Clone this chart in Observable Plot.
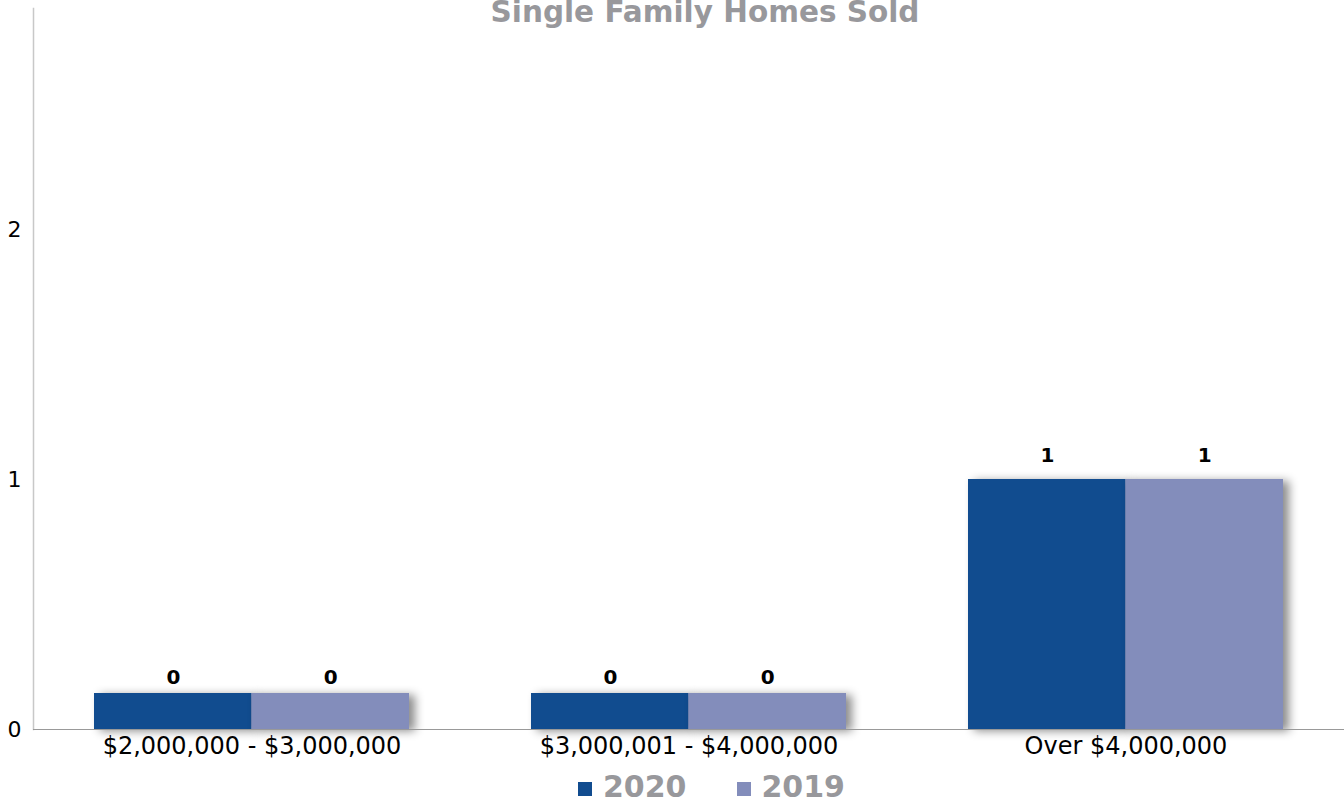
<!DOCTYPE html>
<html>
<head>
<meta charset="utf-8">
<script src="https://cdn.jsdelivr.net/npm/d3@7"></script>
<script src="https://cdn.jsdelivr.net/npm/@observablehq/plot@0.6"></script>
<style>
  html, body { margin: 0; padding: 0; background: #fff; overflow: hidden; }
  #wrap { position: relative; width: 1344px; height: 802px; font-family: "DejaVu Sans", Verdana, sans-serif; }
  #title { position: absolute; top: -5px; left: 0; width: 1410px; text-align: center; font-weight: bold; font-size: 29.5px; line-height: 34px; color: #98989c; white-space: nowrap; }
  #chart { position: absolute; top: 0; left: 0; }
  #legend { position: absolute; top: 770px; left: 578px; height: 32px; display: flex; align-items: center; font-weight: bold; font-size: 30px; color: #98989c; }
  .item { display: flex; align-items: center; margin-right: 50px; }
  .sw { width: 14px; height: 14px; margin-right: 11px; margin-top: 6px; }
  .bars rect { filter: drop-shadow(6px 2px 5px rgba(0,0,0,0.45)); }
</style>
</head>
<body>
<div id="wrap">
  <div id="chart"></div>
  <div id="title">Single Family Homes Sold</div>
  <div id="legend"></div>
</div>
<script>
const categories = ["$2,000,000 - $3,000,000", "$3,000,001 - $4,000,000", "Over $4,000,000"];
const series = ["2020", "2019"];
const values2020 = [0, 0, 1];
const values2019 = [0, 0, 1];
const yTicks = [0, 1, 2];
const colors = ["#114c8f", "#838dbb"];

const data = [];
categories.forEach((c, i) => {
  data.push({cat: c, year: "2020", value: values2020[i]});
  data.push({cat: c, year: "2019", value: values2019[i]});
});

const W = 1344, H = 770, mL = 33, mR = 0, mT = 8, mB = 41;
const padInner = 0.28, padOuter = 0.14;
const step = (W - mL - mR) / (categories.length - padInner + 2 * padOuter);
const bw = step * (1 - padInner);
const half = bw / 2;
const minBar = 0.144; // visual minimum stub for zero-valued bars
const barTop = (d) => Math.max(d.value, minBar);

const marks = [];
series.forEach((s, si) => {
  const sub = data.filter(d => d.year === s);
  marks.push(Plot.barY(sub, {
    x: "cat", y1: 0, y2: barTop, fill: colors[si],
    insetLeft: si === 0 ? 0 : half, insetRight: si === 0 ? half : 0,
    className: "bars"
  }));
  [[sub.filter(d => d.value < minBar), -16], [sub.filter(d => d.value >= minBar), -24]].forEach(([part, dy]) => {
    marks.push(Plot.text(part, {
      x: "cat", y: barTop, text: d => String(d.value),
      dx: si === 0 ? -half / 2 : half / 2, dy,
      fontWeight: "bold", fontSize: 20, fill: "#000"
    }));
  });
});

const chart = Plot.plot({
  width: W, height: H,
  marginLeft: mL, marginRight: mR, marginTop: mT, marginBottom: mB,
  style: {fontFamily: "'DejaVu Sans', Verdana, sans-serif", background: "transparent", overflow: "visible"},
  x: {domain: categories, paddingInner: padInner, paddingOuter: padOuter, label: null},
  y: {domain: [0, 721 / 250], label: null},
  marks: [
    Plot.frame({anchor: "left", stroke: "#c8c8c8", strokeWidth: 1.5}),
    ...marks,
    Plot.ruleY([0], {stroke: "#999", strokeWidth: 1.2}),
    Plot.axisY({ticks: yTicks, tickSize: 0, tickPadding: 12, fontSize: 22, fill: "#000", tickFormat: d => String(d), label: null}),
    Plot.axisX({tickSize: 0, tickPadding: 7, fontSize: 24, fill: "#000", label: null})
  ]
});
document.getElementById("chart").appendChild(chart);

const legend = document.getElementById("legend");
series.forEach((s, i) => {
  const it = document.createElement("div");
  it.className = "item";
  it.innerHTML = `<div class="sw" style="background:${colors[i]}"></div><span>${s}</span>`;
  legend.appendChild(it);
});
</script>
</body>
</html>
